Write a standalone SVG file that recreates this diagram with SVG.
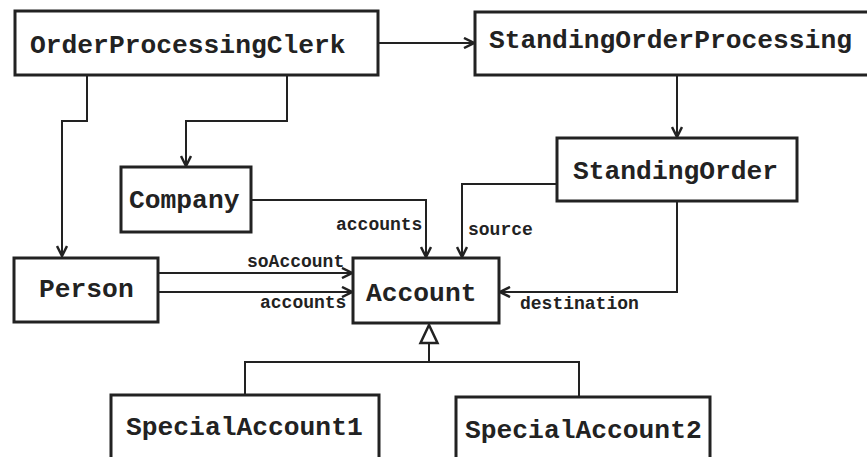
<svg xmlns="http://www.w3.org/2000/svg" width="867" height="457" viewBox="0 0 867 457">
  <style>
    .box { fill: #ffffff; stroke: #222222; stroke-width: 3; }
    .name { font-family: "Liberation Mono", "Courier New", monospace; font-weight: bold; font-size: 26.3px; fill: #222222; }
    .role { font-family: "Liberation Mono", "Courier New", monospace; font-weight: bold; font-size: 18px; fill: #222222; }
    .edge { fill: none; stroke: #222222; stroke-width: 2; }
    .assoc { marker-end: url(#open-arrow); }
  </style>
  <defs>
    <marker id="open-arrow" viewBox="0 0 12 12" markerWidth="12" markerHeight="12" refX="11" refY="6" orient="auto" markerUnits="userSpaceOnUse">
      <path d="M1,1 L11,6 L1,11" fill="none" stroke="#222222" stroke-width="2.5"/>
    </marker>
  </defs>
  <rect width="867" height="457" fill="#ffffff"/>

  <g id="connectors">
    <path class="edge assoc" d="M378,43 H474"/>
    <path class="edge assoc" d="M87,75 V121 H62 V256"/>
    <path class="edge assoc" d="M287,75 V121 H186 V166"/>
    <path class="edge assoc" d="M677,75 V137"/>
    <path class="edge assoc" d="M251,200 H426 V257"/>
    <path class="edge assoc" d="M557,184 H462 V257"/>
    <path class="edge assoc" d="M677,201 V292 H500"/>
    <path class="edge assoc" d="M158,273 H352"/>
    <path class="edge assoc" d="M158,292 H352"/>
    <!-- generalization: SpecialAccount1/2 inherit from Account -->
    <path class="edge" d="M245,395 V362 H579 V397 M429,362 V343"/>
    <polygon points="429,325 420.5,343 437.5,343" fill="#ffffff" stroke="#222222" stroke-width="2.5" stroke-linejoin="miter"/>
    <text class="role" x="336" y="230">accounts</text>
    <text class="role" x="468" y="235">source</text>
    <text class="role" x="247" y="267">soAccount</text>
    <text class="role" x="260" y="308">accounts</text>
    <text class="role" x="520" y="309">destination</text>
  </g>

  <g id="OrderProcessingClerk">
    <rect class="box" x="15" y="11" width="363" height="64"/>
    <text class="name" x="30" y="53">OrderProcessingClerk</text>
  </g>
  <g id="StandingOrderProcessing">
    <rect class="box" x="475" y="12" width="400" height="63"/>
    <text class="name" x="489" y="48">StandingOrderProcessing</text>
  </g>
  <g id="StandingOrder">
    <rect class="box" x="557" y="138" width="240" height="63"/>
    <text class="name" x="573" y="179">StandingOrder</text>
  </g>
  <g id="Company">
    <rect class="box" x="121" y="167" width="130" height="65"/>
    <text class="name" x="129" y="208">Company</text>
  </g>
  <g id="Person">
    <rect class="box" x="14" y="258" width="144" height="64"/>
    <text class="name" x="39" y="297">Person</text>
  </g>
  <g id="Account">
    <rect class="box" x="353" y="258" width="146" height="65"/>
    <text class="name" x="366" y="301">Account</text>
  </g>
  <g id="SpecialAccount1">
    <rect class="box" x="111" y="395" width="268" height="80"/>
    <text class="name" x="126" y="435">SpecialAccount1</text>
  </g>
  <g id="SpecialAccount2">
    <rect class="box" x="456" y="397" width="254" height="80"/>
    <text class="name" x="465" y="438">SpecialAccount2</text>
  </g>
</svg>
